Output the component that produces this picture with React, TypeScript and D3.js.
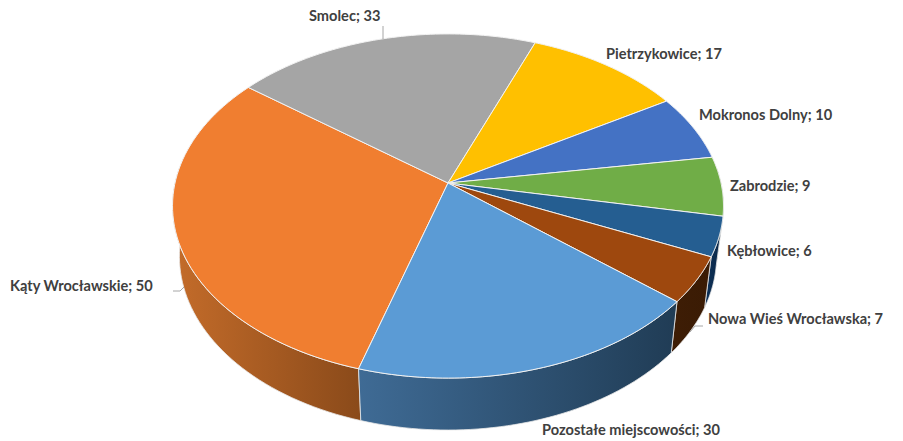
import React from "react";
import * as d3 from "d3";

const categories = ["Kąty Wrocławskie","Smolec","Pietrzykowice","Mokronos Dolny","Zabrodzie","Kębłowice","Nowa Wieś Wrocławska","Pozostałe miejscowości"];
const values = [50,33,17,10,9,6,7,30];
const topColors = ["#F07E30","#A5A5A5","#FFC000","#4472C4","#70AD47","#255E91","#9E480E","#5B9BD5"];
const wallLeft = ["#C46C2A","#888888","#D09C00","#2F5597","#507D32","#0D3158","#3E1D05","#3F6B95"];
const wallRight = ["#8A4A1A","#666666","#997300","#203864","#375623","#0B2747","#3A1B04","#203C55"];
const labelTexts = ["Kąty Wrocławskie; 50","Smolec; 33","Pietrzykowice; 17","Mokronos Dolny; 10","Zabrodzie; 9","Kębłowice; 6","Nowa Wieś Wrocławska; 7","Pozostałe miejscowości; 30"];
const labelPos: [number,number][] = [[10,287],[309,17],[606,55],[699,116],[730,187],[727,252],[708,320],[542,431]];
const leaders: [number,number][][] = [
  [[173,291],[180,291],[184,287]],
  [[383,26],[383,39]],
  [[703,326],[695,326],[690,332]],
];

const cx = 448, cy = 183, A = 273, B = 169, k = 0.1337;
const depth = 50, xs = 0.975, ys = 1.01;
const rad = (d:number)=>d*Math.PI/180;

const top = (t:number):[number,number]=>{
  const X=Math.sin(t),Y=Math.cos(t),w=1+k*Y;
  return [cx+A*X/w, cy-B*Y/w];
};
const bot = (t:number):[number,number]=>{
  const X=Math.sin(t),Y=Math.cos(t),w=1+k*Y;
  return [cx+xs*A*X/w, cy+depth-ys*B*Y/w];
};

const arcs = d3.pie<number>().sort(null).startAngle(rad(-163.4)).endAngle(rad(196.6))(values);
const line = d3.line();
const samples = (a:number,b:number,n=48)=>d3.range(n+1).map(i=>a+(b-a)*i/n);

// front half of the pie, expressed in the same angle frame (90° .. 270°)
const wallRange = (a:number,b:number):[number,number]|null=>{
  const norm = (x:number)=>x<rad(-90)?x+2*Math.PI:x;
  let s=norm(a), e=s+(b-a);
  s=Math.max(s,rad(85)); e=Math.min(e,rad(275));
  return e>s?[s,e]:null;
};

export default function App(){
  const walls = arcs.map((d,i)=>{
    const r = wallRange(d.startAngle,d.endAngle);
    if(!r) return null;
    const ts = samples(r[0],r[1]);
    const pts=[...ts.map(top),...ts.slice().reverse().map(bot)];
    const xe=d3.extent(pts,p=>p[0]) as [number,number];
    return {i,path:line(pts)+"Z",x1:xe[0],x2:xe[1]};
  }).filter(Boolean) as {i:number,path:string,x1:number,x2:number}[];
  // left end of the front wall is painted last-to-first so nearer walls are on top
  const faces = arcs.map((d,i)=>{
    const pts:[number,number][]=[[cx,cy],...samples(d.startAngle,d.endAngle,64).map(top)];
    return {i,path:line(pts)+"Z"};
  });
  return (
    <svg width={903} height={441} style={{position:"fixed",left:0,top:0,background:"#fff"}}>
      <defs>
        {walls.map(w=>(
          <linearGradient key={w.i} id={`w${w.i}`} gradientUnits="userSpaceOnUse" x1={w.x1} x2={w.x2} y1={0} y2={0}>
            <stop offset="0" stopColor={wallLeft[w.i]}/>
            <stop offset="1" stopColor={wallRight[w.i]}/>
          </linearGradient>
        ))}
      </defs>
      {walls.map(w=><path key={w.i} d={w.path} fill={`url(#w${w.i})`} stroke="#E8E8E8" strokeWidth={0.8}/>)}
      {faces.map(f=><path key={f.i} d={f.path} fill={topColors[f.i]} stroke="#F2F2F2" strokeWidth={1}/>)}
      {leaders.map((l,i)=><path key={i} d={line(l)!} fill="none" stroke="#A6A6A6" strokeWidth={1}/>)}
      {categories.map((c,i)=>(
        <text key={c} x={labelPos[i][0]} y={labelPos[i][1]} dominantBaseline="middle" fontFamily="Lato" fontWeight={700} fontSize={14.6} fill="#404040">{labelTexts[i]}</text>
      ))}
    </svg>
  );
}
